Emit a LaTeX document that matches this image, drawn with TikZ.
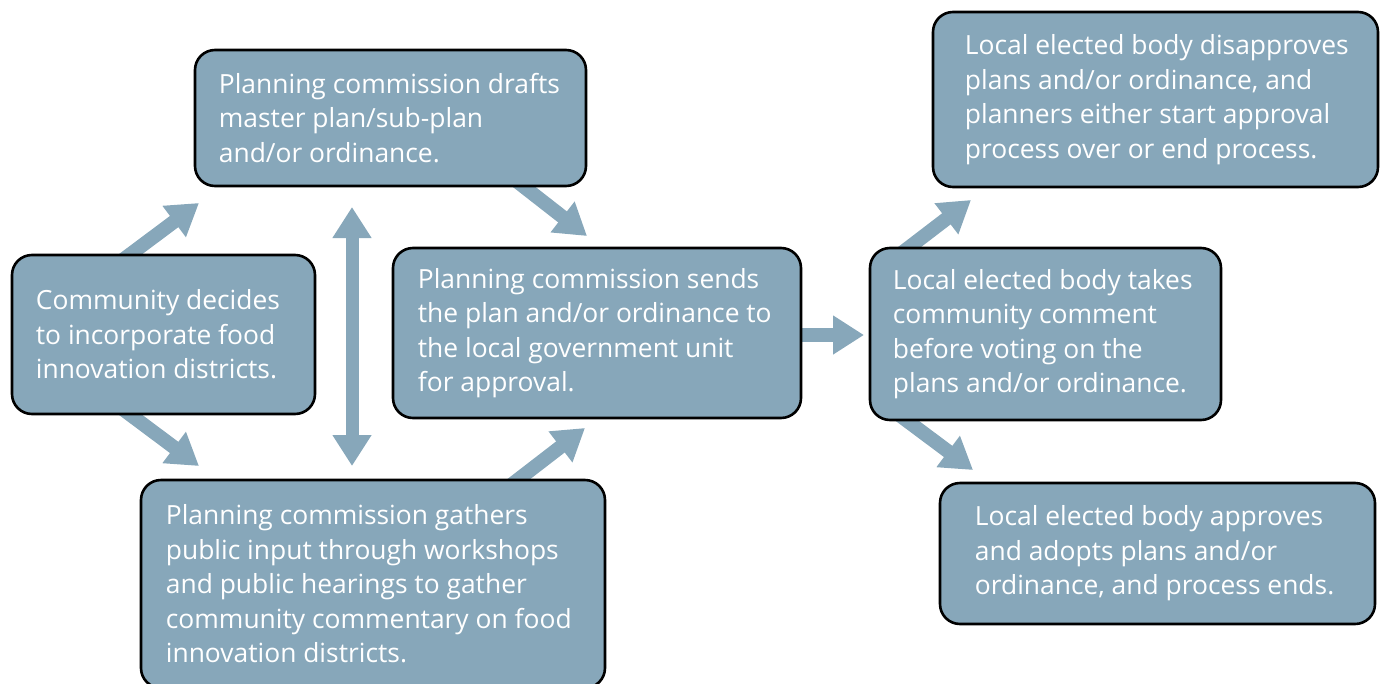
\documentclass[tikz,border=0pt]{standalone}
\usepackage{fontspec}
\setmainfont{Open Sans}
\usetikzlibrary{arrows.meta,calc}
\definecolor{boxblue}{HTML}{87A7BA}
\tikzset{
  box/.style={draw=black, line width=2.6pt, fill=boxblue, rounded corners=20pt, inner sep=0pt},
  txt/.style={anchor=west, align=left, text=white, inner sep=0pt, font=\fontsize{26.4}{34.5}\selectfont},
  flow/.style={draw=boxblue, line width=14pt, -{Triangle[width=37pt,length=31pt]}},
  flow2/.style={draw=boxblue, line width=13pt, {Triangle[width=37pt,length=31pt]}-{Triangle[width=37pt,length=31pt]}},
}
\begin{document}
\begin{tikzpicture}[x=1pt,y=-1pt]
\useasboundingbox (0,0) rectangle (1382,683);
% named free ends
\coordinate (t1) at (199,203);
\coordinate (t2) at (199,466);
\coordinate (v1) at (352,207);
\coordinate (v2) at (352,466);
\coordinate (t4) at (587,236);
\coordinate (t5) at (585,428);
\coordinate (t6) at (864,335);
\coordinate (t7) at (971,200);
\coordinate (t8) at (973,470);
\coordinate (s1) at (112,268);
\coordinate (s2) at (112,401);
\coordinate (s4) at (505,172);
\coordinate (s5) at (502,492);
\coordinate (s6) at (790,335);
\coordinate (s7) at (890,262);
\coordinate (s8) at (890,408);
% arrows (behind boxes)
\draw[flow] (s1) -- (t1);
\draw[flow] (s2) -- (t2);
\draw[flow2] (v1) -- (v2);
\draw[flow] (s4) -- (t4);
\draw[flow] (s5) -- (t5);
\draw[flow] (s6) -- (t6);
\draw[flow] (s7) -- (t7);
\draw[flow] (s8) -- (t8);
% boxes
\node[box, minimum width=303pt, minimum height=159pt] (comm) at (163.5,334.5) {};
\node[box, minimum width=391pt, minimum height=136pt] (drafts) at (390.5,118) {};
\node[box, minimum width=408pt, minimum height=170pt] (sends) at (597,333) {};
\node[box, minimum width=464pt, minimum height=208pt] (gathers) at (373,584) {};
\node[box, minimum width=445pt, minimum height=175pt] (disapp) at (1155.5,99.5) {};
\node[box, minimum width=351pt, minimum height=172pt] (takes) at (1045.5,334) {};
\node[box, minimum width=435pt, minimum height=141pt] (approves) at (1157.5,553.5) {};
% texts
\node[txt] (commT) at ($(comm.west)+(25,0)$) {Community decides\\to incorporate food\\innovation districts.};
\node[txt] (draftsT) at ($(drafts.west)+(25,0)$) {Planning commission drafts\\master plan/sub-plan\\and/or ordinance.};
\node[txt] (sendsT) at ($(sends.west)+(26,0)$) {Planning commission sends\\the plan and/or ordinance to\\the local government unit\\for approval.};
\node[txt] (gathersT) at ($(gathers.west)+(26,0)$) {Planning commission gathers\\public input through workshops\\and public hearings to gather\\community commentary on food\\innovation districts.};
\node[txt] (disappT) at ($(disapp.west)+(33,0)$) {Local elected body disapproves\\plans and/or ordinance, and\\planners either start approval\\process over or end process.};
\node[txt] (takesT) at ($(takes.west)+(24,0)$) {Local elected body takes\\community comment\\before voting on the\\plans and/or ordinance.};
\node[txt] (approvesT) at ($(approves.west)+(36,0)$) {Local elected body approves\\and adopts plans and/or\\ordinance, and process ends.};
\end{tikzpicture}
\end{document}
